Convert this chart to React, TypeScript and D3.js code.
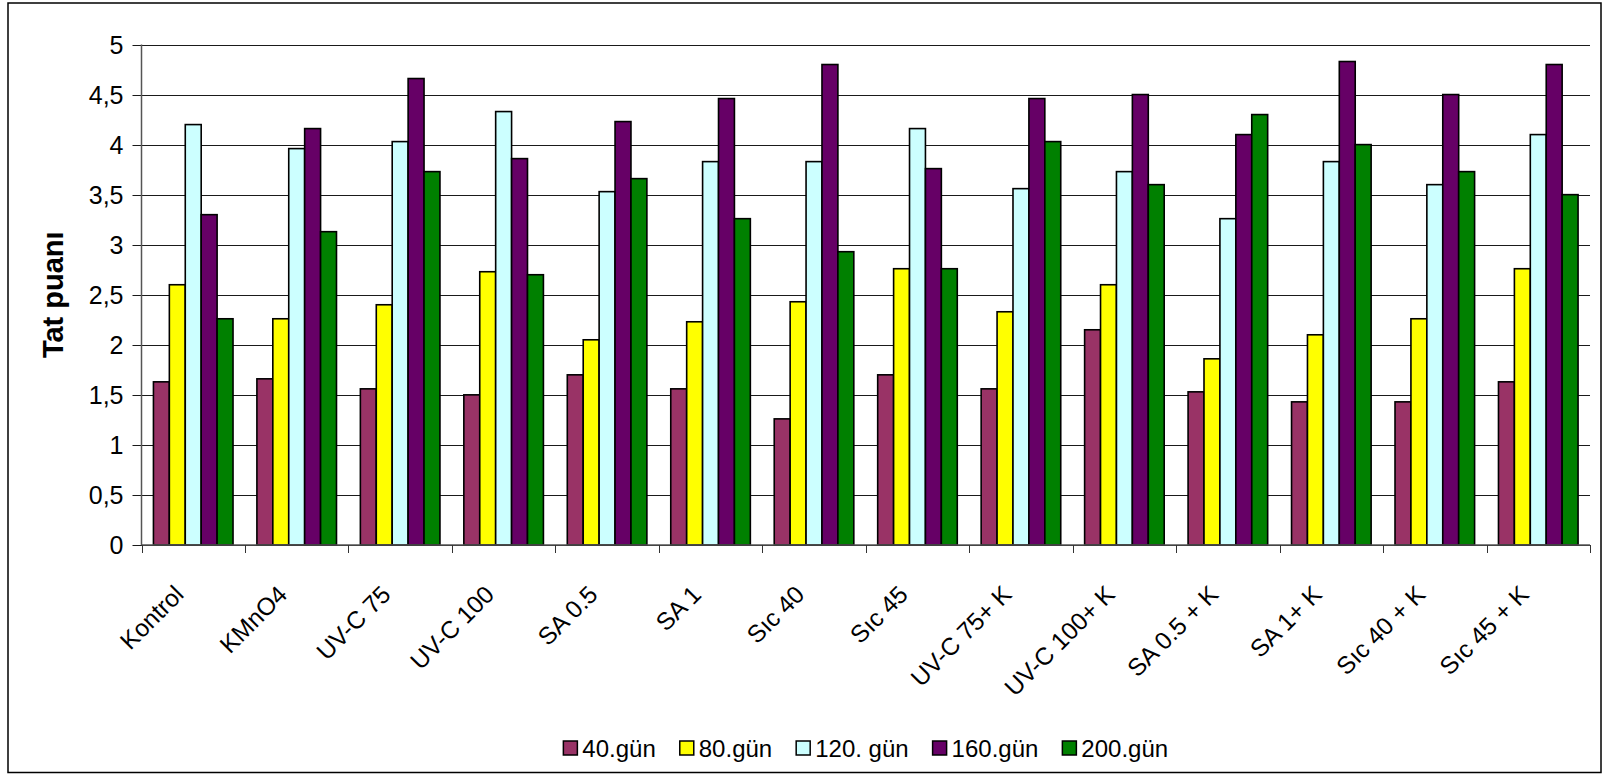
import React, { useEffect, useRef } from "react";
import * as d3 from "d3";

// Treatments on the category axis
const categories = [
  "Kontrol",
  "KMnO4",
  "UV-C 75",
  "UV-C 100",
  "SA 0.5",
  "SA 1",
  "Sıc 40",
  "Sıc 45",
  "UV-C 75+ K",
  "UV-C 100+ K",
  "SA 0.5 + K",
  "SA 1+ K",
  "Sıc 40 + K",
  "Sıc 45 + K",
];

// Taste scores per storage day
const gun40 = [1.63, 1.66, 1.56, 1.5, 1.7, 1.56, 1.26, 1.7, 1.56, 2.15, 1.53, 1.43, 1.43, 1.63];
const gun80 = [2.6, 2.26, 2.4, 2.73, 2.05, 2.23, 2.43, 2.76, 2.33, 2.6, 1.86, 2.1, 2.26, 2.76];
const gun120 = [4.2, 3.96, 4.03, 4.33, 3.53, 3.83, 3.83, 4.16, 3.56, 3.73, 3.26, 3.83, 3.6, 4.1];
const gun160 = [3.3, 4.16, 4.66, 3.86, 4.23, 4.46, 4.8, 3.76, 4.46, 4.5, 4.1, 4.83, 4.5, 4.8];
const gun200 = [2.26, 3.13, 3.73, 2.7, 3.66, 3.26, 2.93, 2.76, 4.03, 3.6, 4.3, 4.0, 3.73, 3.5];

const seriesNames = ["40.gün", "80.gün", "120. gün", "160.gün", "200.gün"];
const seriesColors = ["#993366", "#FFFF00", "#CCFFFF", "#660066", "#008000"];
const seriesValues = [gun40, gun80, gun120, gun160, gun200];

const yTicks = [0, 0.5, 1, 1.5, 2, 2.5, 3, 3.5, 4, 4.5, 5];
const yTitle = "Tat puanı";

const W = 1602;
const H = 775;
const FONT = "'Liberation Sans', Arial, sans-serif";

export default function App() {
  const ref = useRef<SVGSVGElement>(null);

  useEffect(() => {
    const svg = d3.select(ref.current);
    svg.selectAll("*").remove();

    const left = 141.5;
    const right = 1590;
    const top = 44.5;
    const bottom = 545;

    const x = d3.scaleBand<string>().domain(categories).range([left, right]).padding(0);
    // Excel-style gap width of 150% between clusters
    const gapOffset = (x.bandwidth() * 0.75) / 6.5;
    const xs = d3
      .scaleBand<string>()
      .domain(seriesNames)
      .range([gapOffset, x.bandwidth() - gapOffset])
      .padding(0);
    const y = d3.scaleLinear().domain([0, 5]).range([bottom, top]);

    const locale = d3.formatLocale({ decimal: ",", thousands: ".", grouping: [3], currency: ["", ""] });
    const fmt = locale.format(".1~f");

    // outer frame
    svg
      .append("rect")
      .attr("x", 8)
      .attr("y", 3)
      .attr("width", 1593)
      .attr("height", 769.5)
      .attr("fill", "#fff")
      .attr("stroke", "#000")
      .attr("stroke-width", 1.5);

    // horizontal gridlines with tick marks
    const grid = svg.append("g");
    grid
      .selectAll("line")
      .data(yTicks)
      .join("line")
      .attr("x1", left - 9)
      .attr("x2", right)
      .attr("y1", (d) => Math.round(y(d)) + 0.5)
      .attr("y2", (d) => Math.round(y(d)) + 0.5)
      .attr("stroke", "#1a1a1a")
      .attr("stroke-width", 1);

    grid
      .selectAll("text")
      .data(yTicks)
      .join("text")
      .attr("x", left - 18)
      .attr("y", (d) => y(d))
      .attr("dy", "0.36em")
      .attr("text-anchor", "end")
      .attr("font-family", FONT)
      .attr("font-size", 25)
      .attr("fill", "#000")
      .text((d) => fmt(d));

    // y axis line
    svg
      .append("line")
      .attr("x1", left)
      .attr("x2", left)
      .attr("y1", top)
      .attr("y2", bottom)
      .attr("stroke", "#555")
      .attr("stroke-width", 1.5);

    // bars
    const groups = svg
      .append("g")
      .selectAll("g")
      .data(categories)
      .join("g")
      .attr("transform", (c) => `translate(${x(c)},0)`);

    groups
      .selectAll("rect")
      .data((c, i) => seriesNames.map((s, k) => ({ s, k, v: seriesValues[k][i] })))
      .join("rect")
      .attr("x", (d) => xs(d.s)!)
      .attr("width", xs.bandwidth())
      .attr("y", (d) => y(d.v))
      .attr("height", (d) => bottom - y(d.v))
      .attr("fill", (d) => seriesColors[d.k])
      .attr("stroke", "#000")
      .attr("stroke-width", 1.6);

    // x axis line and category ticks
    svg
      .append("line")
      .attr("x1", left)
      .attr("x2", right)
      .attr("y1", bottom)
      .attr("y2", bottom)
      .attr("stroke", "#555")
      .attr("stroke-width", 1.5);

    const boundaries = categories.map((c) => x(c)!).concat([right]);
    svg
      .append("g")
      .selectAll("line")
      .data(boundaries)
      .join("line")
      .attr("x1", (d) => Math.round(d) + 0.5)
      .attr("x2", (d) => Math.round(d) + 0.5)
      .attr("y1", bottom)
      .attr("y2", bottom + 8)
      .attr("stroke", "#333")
      .attr("stroke-width", 1);

    // rotated category labels
    svg
      .append("g")
      .selectAll("text")
      .data(categories)
      .join("text")
      .attr(
        "transform",
        (c) => `translate(${x(c)! + x.bandwidth() / 2 - 8},${596}) rotate(-45)`
      )
      .attr("text-anchor", "end")
      .attr("font-family", FONT)
      .attr("font-size", 24.5)
      .attr("fill", "#000")
      .text((c) => c);

    // y axis title
    svg
      .append("text")
      .attr("transform", `translate(${63},${(top + bottom) / 2}) rotate(-90)`)
      .attr("text-anchor", "middle")
      .attr("font-family", FONT)
      .attr("font-size", 29)
      .attr("font-weight", "bold")
      .attr("fill", "#000")
      .text(yTitle);

    // legend, centred under the plot
    const legend = svg.append("g");
    const sq = 14;
    const items = legend.selectAll("g").data(seriesNames).join("g");
    items
      .append("rect")
      .attr("width", sq)
      .attr("height", sq)
      .attr("y", -sq / 2)
      .attr("fill", (d, i) => seriesColors[i])
      .attr("stroke", "#000")
      .attr("stroke-width", 1.5);
    items
      .append("text")
      .attr("x", sq + 5)
      .attr("dy", "0.36em")
      .attr("font-family", FONT)
      .attr("font-size", 24)
      .attr("fill", "#000")
      .text((d) => d);
    let cx = 0;
    const spacing = 24;
    items.each(function () {
      const g = d3.select(this);
      const tw = (g.select("text").node() as SVGTextElement).getComputedTextLength();
      g.attr("transform", `translate(${cx},0)`);
      cx += sq + 5 + tw + spacing;
    });
    const total = cx - spacing;
    legend.attr("transform", `translate(${(left + right) / 2 - total / 2},${748})`);
  }, []);

  return (
    <svg
      ref={ref}
      width={W}
      height={H}
      style={{ position: "absolute", left: 0, top: 0, background: "#fff" }}
    />
  );
}
